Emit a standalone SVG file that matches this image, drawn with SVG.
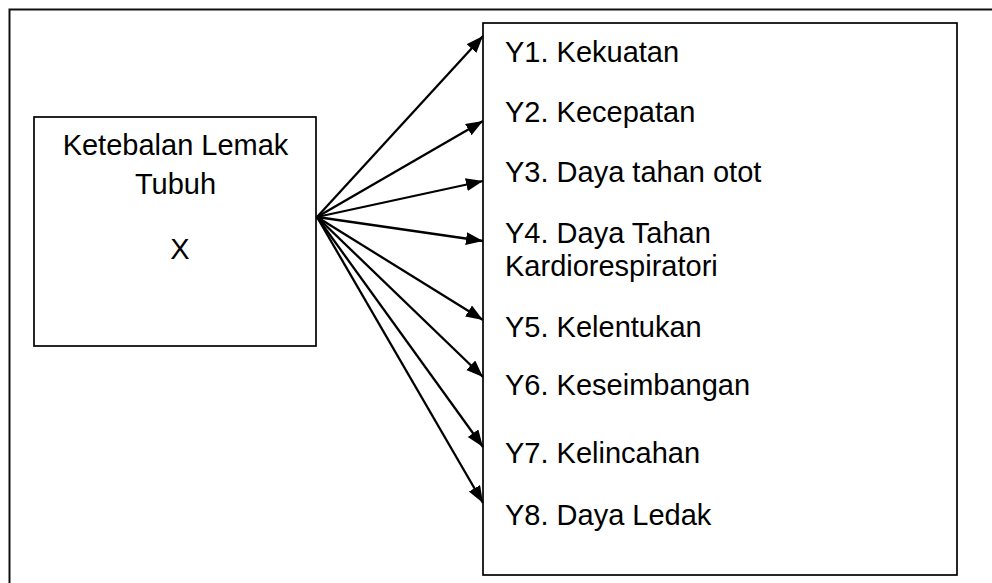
<svg xmlns="http://www.w3.org/2000/svg" width="992" height="583" viewBox="0 0 992 583">
<style>
.box{fill:#fff;stroke:#000;stroke-width:1.7}
.frame{fill:none;stroke:#111;stroke-width:2}
.t{font-family:"Liberation Sans",Arial,sans-serif;font-size:29px;fill:#000}
.c{text-anchor:middle}
.arr{stroke:#000;stroke-width:2.3;fill:none;marker-end:url(#ah)}
</style>
<defs>
<marker id="ah" markerUnits="userSpaceOnUse" markerWidth="18" markerHeight="14" refX="17" refY="6.5" orient="auto">
<path d="M0,0 L17,6.5 L0,13 z" fill="#000"/>
</marker>
</defs>
<rect width="992" height="583" fill="#fff"/>
<path class="frame" d="M9.5,583 L9.5,9.5 L992,9.5"/>
<g id="node-x">
<rect class="box" x="34" y="117" width="282" height="229"/>
<text class="t c" x="175.5" y="155">Ketebalan Lemak</text>
<text class="t c" x="175.5" y="194">Tubuh</text>
<text class="t c" x="180" y="259">X</text>
</g>
<g id="node-y">
<rect class="box" x="483" y="23" width="474" height="552"/>
<text class="t" x="505" y="62">Y1. Kekuatan</text>
<text class="t" x="505" y="122">Y2. Kecepatan</text>
<text class="t" x="505" y="182">Y3. Daya tahan otot</text>
<text class="t" x="505" y="243">Y4. Daya Tahan</text>
<text class="t" x="505" y="276">Kardiorespiratori</text>
<text class="t" x="505" y="337">Y5. Kelentukan</text>
<text class="t" x="505" y="395">Y6. Keseimbangan</text>
<text class="t" x="505" y="463">Y7. Kelincahan</text>
<text class="t" x="505" y="525">Y8. Daya Ledak</text>
</g>
<g id="connectors">
<line class="arr" x1="317" y1="217" x2="483" y2="36"/>
<line class="arr" x1="317" y1="217" x2="483" y2="121"/>
<line class="arr" x1="317" y1="217" x2="483" y2="181"/>
<line class="arr" x1="317" y1="217" x2="483" y2="241"/>
<line class="arr" x1="317" y1="217" x2="483" y2="320"/>
<line class="arr" x1="317" y1="217" x2="483" y2="377"/>
<line class="arr" x1="317" y1="217" x2="483" y2="447"/>
<line class="arr" x1="317" y1="217" x2="483" y2="503"/>
</g>
</svg>
